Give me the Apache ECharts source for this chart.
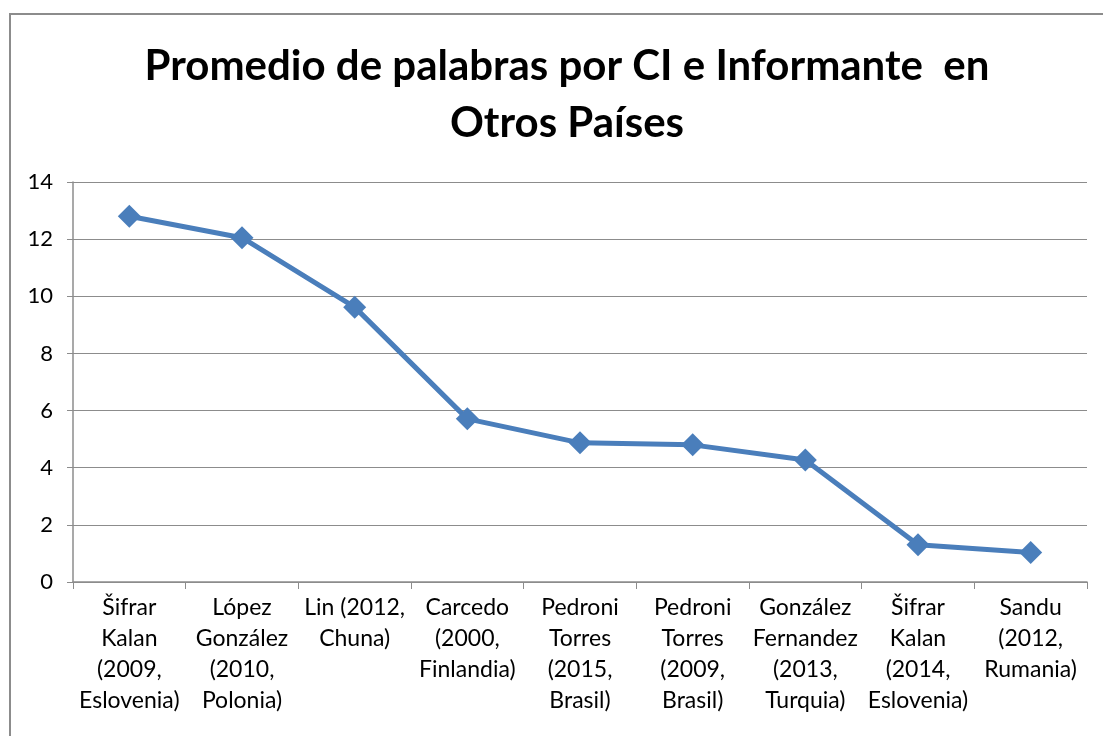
<!DOCTYPE html>
<html>
<head>
<meta charset="utf-8">
<script src="https://cdn.jsdelivr.net/npm/echarts@6/dist/echarts.min.js"></script>
<style>
  html, body { margin: 0; padding: 0; background: #fff; overflow: hidden; }
  #frame { position: absolute; left: 9px; top: 13px; width: 1200px; height: 800px; border: 2px solid #8c8c8c; }
  #main { position: absolute; left: 0; top: 0; width: 1103px; height: 736px; }
</style>
</head>
<body>
<div id="frame"></div>
<div id="main"></div>
<script>
// categorias (autor, año, país)
var categories = [
  'Šifrar\nKalan\n(2009,\nEslovenia)',
  'López\nGonzález\n(2010,\nPolonia)',
  'Lin (2012,\nChuna)',
  'Carcedo\n(2000,\nFinlandia)',
  'Pedroni\nTorres\n(2015,\nBrasil)',
  'Pedroni\nTorres\n(2009,\nBrasil)',
  'González\nFernandez\n(2013,\nTurquia)',
  'Šifrar\nKalan\n(2014,\nEslovenia)',
  'Sandu\n(2012,\nRumania)'
]
// promedio de palabras
var promedio = [12.8, 12.05, 9.62, 5.71, 4.87, 4.8, 4.27, 1.3, 1.03]
var yMin = 0
var yMax = 14
var yStep = 2

var chart = echarts.init(document.getElementById('main'))
chart.setOption({
  animation: false,
  title: {
    text: 'Promedio de palabras por CI e Informante  en\nOtros Países',
    left: 562,
    top: 33,
    textAlign: 'center',
    textStyle: {
      fontFamily: 'Lato',
      fontSize: 42,
      fontWeight: 'bold',
      lineHeight: 57,
      color: '#000'
    }
  },
  grid: { left: 73, right: 16, top: 182, bottom: 154 },
  xAxis: {
    type: 'category',
    data: categories,
    boundaryGap: true,
    axisLine: { lineStyle: { color: '#8c8c8c', width: 1.5 } },
    axisTick: { show: true, length: 7, lineStyle: { color: '#8c8c8c' } },
    axisLabel: {
      interval: 0,
      margin: 10,
      fontFamily: 'Lato',
      fontSize: 23,
      lineHeight: 31,
      color: '#000',
      align: 'center'
    }
  },
  yAxis: {
    type: 'value',
    min: yMin,
    max: yMax,
    interval: yStep,
    axisLine: { show: true, lineStyle: { color: '#8c8c8c', width: 1.5 } },
    axisTick: { show: true, length: 6, lineStyle: { color: '#8c8c8c' } },
    axisLabel: {
      margin: 20,
      fontFamily: 'Lato',
      fontSize: 22,
      color: '#000'
    },
    splitLine: { lineStyle: { color: '#8c8c8c', width: 1 } }
  },
  series: [
    {
      type: 'line',
      data: promedio,
      symbol: 'diamond',
      symbolSize: 23,
      lineStyle: { color: '#4a7ebb', width: 5 },
      itemStyle: { color: '#4a7ebb' }
    }
  ]
})
</script>
</body>
</html>
